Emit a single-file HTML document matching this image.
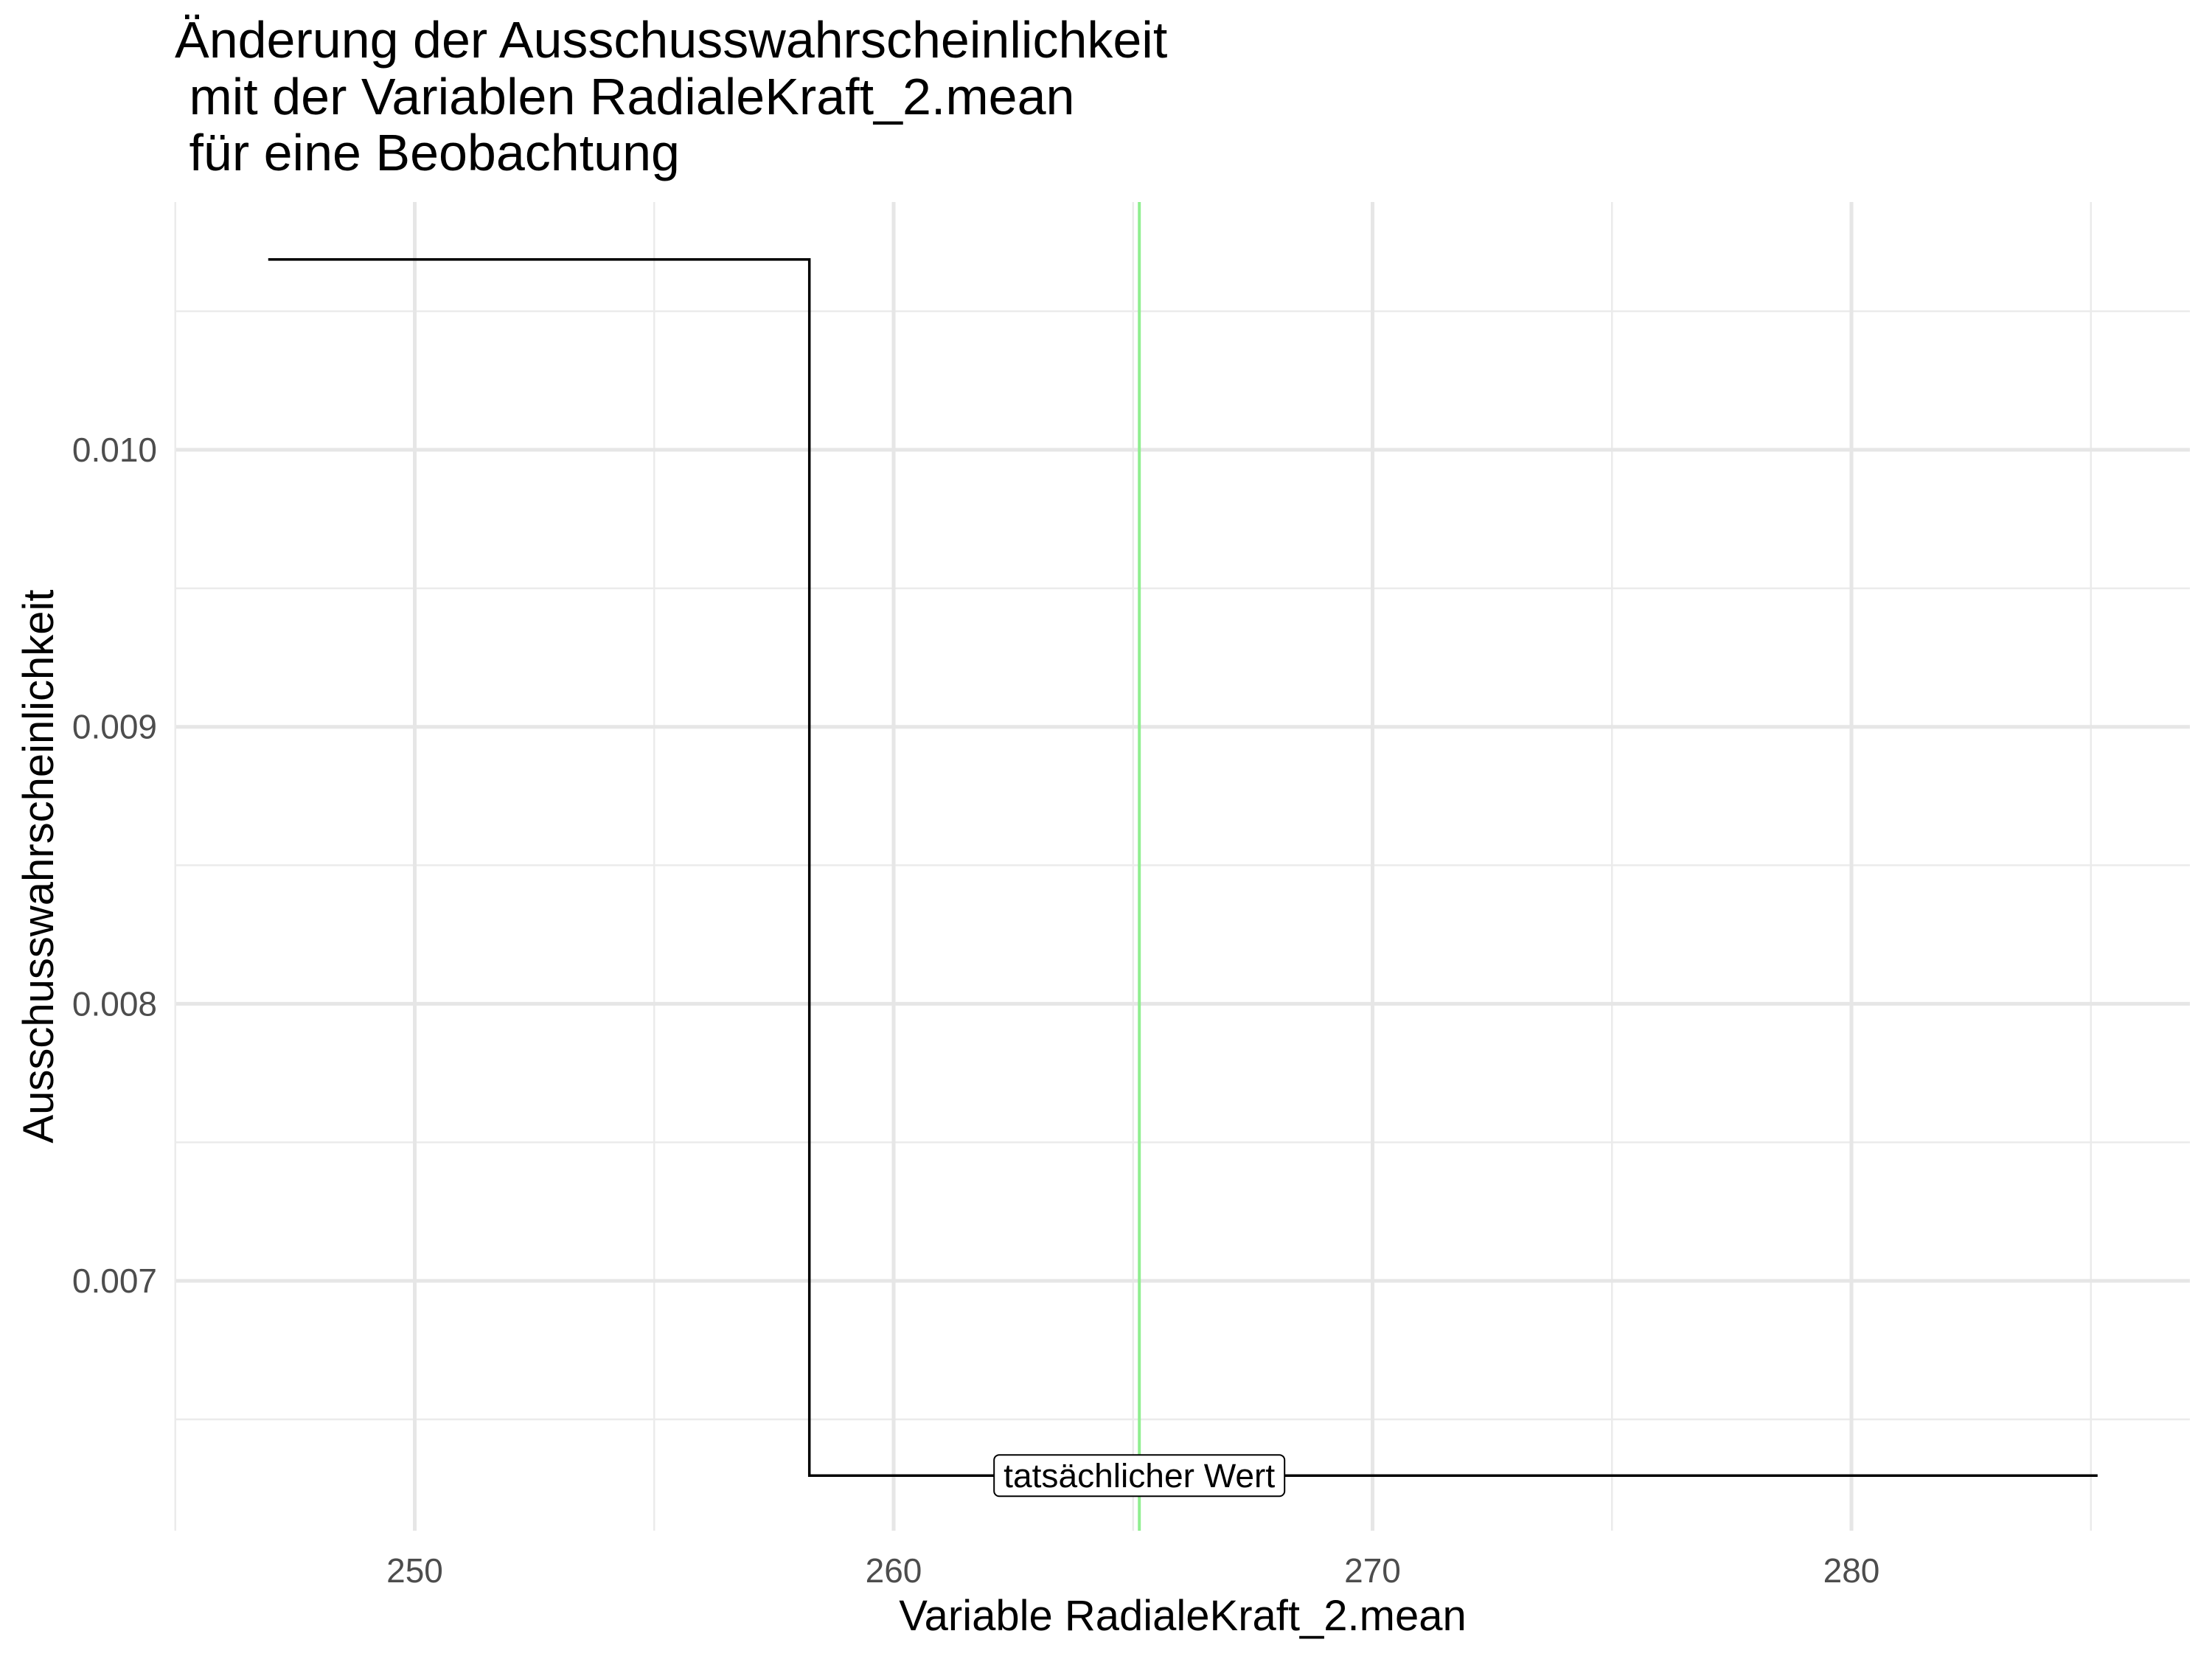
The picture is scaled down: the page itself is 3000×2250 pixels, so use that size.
<!DOCTYPE html>
<html><head><meta charset="utf-8"><style>
html,body{margin:0;padding:0;background:#fff;}
svg{display:block;font-family:"Liberation Sans",Arial,sans-serif;}
</style></head><body>
<svg id="chart" width="3000" height="2250" viewBox="0 0 3000 2250">
<g id="grid"></g>
<g id="marks"></g>
<g id="axes"></g>
<text x="237" y="78" font-size="70" fill="#000" xml:space="preserve">
<tspan x="237" y="78">Änderung der Ausschusswahrscheinlichkeit</tspan>
<tspan x="237" y="155">&#160;mit der Variablen RadialeKraft_2.mean</tspan>
<tspan x="237" y="231">&#160;für eine Beobachtung</tspan>
</text>
<text x="1604" y="2211" font-size="58" text-anchor="middle" fill="#000">Variable RadialeKraft_2.mean</text>
<text transform="translate(72,1175) rotate(-90)" font-size="58" text-anchor="middle" fill="#000">Ausschusswahrscheinlichkeit</text>
</svg>
<script>
const xTicks = [250, 260, 270, 280];
const xMinor = [245, 255, 265, 275, 285];
const yTicks = [0.007, 0.008, 0.009, 0.010];
const yMinor = [0.0065, 0.0075, 0.0085, 0.0095, 0.0105];
const yTickLabels = ["0.007", "0.008", "0.009", "0.010"];
const stepX = [246.94, 258.24, 285.14];
const stepY = [0.010687, 0.006297];
const actualValue = [265.13];
const labelText = ["tatsächlicher Wert"];

const L = 239, R = 2970, T = 274, B = 2076;
const sx = v => 562.5 + (v - 250) * 64.95;
const sy = v => 610 + (0.010 - v) * 375700;
const NS = "http://www.w3.org/2000/svg";
function mk(tag, attrs, parent) {
  const e = document.createElementNS(NS, tag);
  for (const k in attrs) e.setAttribute(k, attrs[k]);
  parent.appendChild(e);
  return e;
}
const grid = document.getElementById('grid');
const marks = document.getElementById('marks');
const axes = document.getElementById('axes');

xMinor.forEach(v => {
  const l = mk('line', {x1: sx(v), x2: sx(v), y1: T, y2: B, stroke: '#ebebeb', 'stroke-width': 2.5}, grid);
  
  
});
yMinor.forEach(v => {
  const l = mk('line', {x1: L, x2: R, y1: sy(v), y2: sy(v), stroke: '#ebebeb', 'stroke-width': 2.5}, grid);
  
  
});
xTicks.forEach(v => {
  const l = mk('line', {x1: sx(v), x2: sx(v), y1: T, y2: B, stroke: '#e6e6e6', 'stroke-width': 5}, grid);
  
  
  const t = mk('text', {x: sx(v), y: 2146, 'font-size': 46, fill: '#4d4d4d', 'text-anchor': 'middle'}, axes);
  t.textContent = v;
  
  
});
yTicks.forEach((v, i) => {
  const l = mk('line', {x1: L, x2: R, y1: sy(v), y2: sy(v), stroke: '#e6e6e6', 'stroke-width': 5}, grid);
  
  
  const t = mk('text', {x: 213, y: sy(v) + 16, 'font-size': 46, fill: '#4d4d4d', 'text-anchor': 'end'}, axes);
  t.textContent = yTickLabels[i];
  
  
});

const vx = sx(actualValue[0]);
const vline = mk('line', {x1: vx, x2: vx, y1: T, y2: B, stroke: '#90ee90', 'stroke-width': 4}, marks);



const d = `M${sx(stepX[0])},${sy(stepY[0])} H${sx(stepX[1])} V${sy(stepY[1])} H${sx(stepX[2])}`;
const path = mk('path', {d: d, fill: 'none', stroke: '#000', 'stroke-width': 3.5}, marks);



const ly = sy(stepY[1]);
const box = mk('rect', {x: vx - 197, y: ly - 28, width: 394, height: 56, rx: 7, fill: '#fff', stroke: '#000', 'stroke-width': 2}, marks);


const lt = mk('text', {x: vx, y: ly + 16, 'font-size': 45, fill: '#000', 'text-anchor': 'middle', textLength: 368, lengthAdjust: 'spacingAndGlyphs'}, marks);
lt.textContent = labelText[0];


</script>
</body></html>
